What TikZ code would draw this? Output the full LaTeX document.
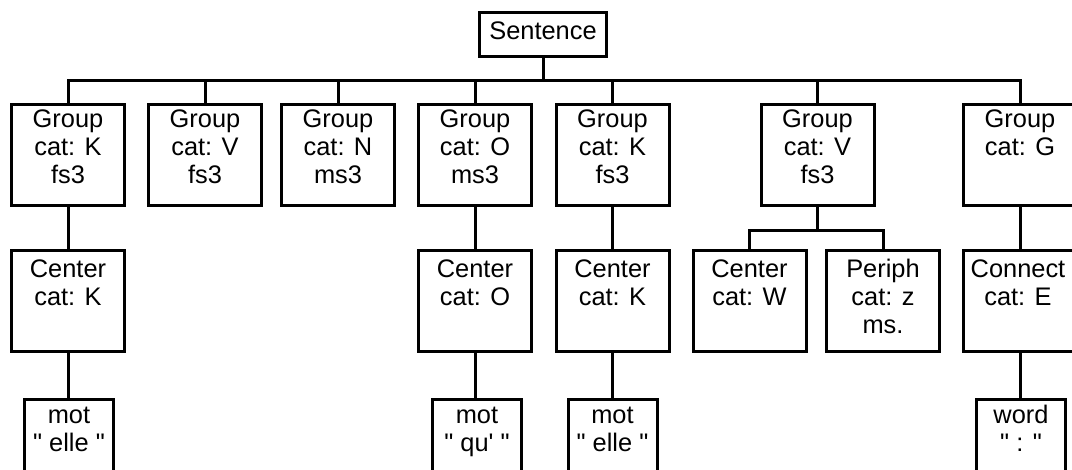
\documentclass[tikz,border=0pt]{standalone}
\usepackage{fontspec}
\setmainfont{Liberation Sans}[Ligatures=TeXOff]
\newcommand{\mylines}[1]{\begin{tabular}[t]{@{}c@{}}#1\end{tabular}}
\begin{document}
\begin{tikzpicture}[x=0.5pt,y=-0.5pt,
  bx/.style={draw, line width=1.5pt, inner sep=0, minimum width=56.5pt, minimum height=50.5pt},
  wbx/.style={draw, line width=1.5pt, inner sep=0, minimum width=44.5pt, minimum height=50.5pt},
  txt/.style={anchor=base, inner sep=0, font=\fontsize{12.7}{14}\selectfont},
  cn/.style={line width=1.5pt}]
\clip (0,0) rectangle (1072,470);
\fill[white] (0,0) rectangle (1072,470);
% root
\node[draw, line width=1.5pt, inner sep=0, minimum width=63.5pt, minimum height=22pt] (sent) at (543,34.5) {};
\node[txt] (tsent) at (543,40) {Sentence};
% group row
\node[bx] (g1) at (68,155) {};
\node[bx] (g2) at (205,155) {};
\node[bx] (g3) at (338,155) {};
\node[bx] (g4) at (475,155) {};
\node[bx] (g5) at (612.5,155) {};
\node[bx] (g6) at (817.5,155) {};
\node[bx] (g7) at (1020,155) {};
\node[txt] (tg1) at (68,128) {\mylines{Group\\cat: K\\fs3}};
\node[txt] (tg2) at (205,128) {\mylines{Group\\cat: V\\fs3}};
\node[txt] (tg3) at (338,128) {\mylines{Group\\cat: N\\ms3}};
\node[txt] (tg4) at (475,128) {\mylines{Group\\cat: O\\ms3}};
\node[txt] (tg5) at (612.5,128) {\mylines{Group\\cat: K\\fs3}};
\node[txt] (tg6) at (817.5,128) {\mylines{Group\\cat: V\\fs3}};
\node[txt] (tg7) at (1020,128) {\mylines{Group\\cat: G}};
% center row
\node[bx] (c1) at (68,301) {};
\node[bx] (c4) at (475,301) {};
\node[bx] (c5) at (612.5,301) {};
\node[bx] (c6a) at (749.5,301) {};
\node[bx] (c6b) at (883,301) {};
\node[bx] (c7) at (1020,301) {};
\node[txt] (tc1) at (68,278) {\mylines{Center\\cat: K}};
\node[txt] (tc4) at (475,278) {\mylines{Center\\cat: O}};
\node[txt] (tc5) at (612.5,278) {\mylines{Center\\cat: K}};
\node[txt] (tc6a) at (749.5,278) {\mylines{Center\\cat: W}};
\node[txt] (tc6b) at (883,278) {\mylines{Periph\\cat: z\\ms.}};
\node[txt] (tc7) at (1018,278) {\mylines{Connect\\cat: E}};
% word row
\node[wbx] (w1) at (69,450) {};
\node[wbx] (w4) at (477,450) {};
\node[wbx] (w5) at (612.5,450) {};
\node[wbx] (w7) at (1021,450) {};
\node[txt] (tw1) at (69,423) {\mylines{mot\\" elle "}};
\node[txt] (tw4) at (477,423) {\mylines{mot\\" qu' "}};
\node[txt] (tw5) at (612.5,423) {\mylines{mot\\" elle "}};
\node[txt] (tw7) at (1021,423) {\mylines{word\\" : "}};
% connectors
\coordinate (bus) at (543,81);
\coordinate (sbus) at (817.5,231);
\draw[cn] (sent.south) -- (bus);
\draw[cn] (g1.north) |- (bus) -| (g7.north);
\draw[cn] (g2.north) -- (g2.north |- bus);
\draw[cn] (g3.north) -- (g3.north |- bus);
\draw[cn] (g4.north) -- (g4.north |- bus);
\draw[cn] (g5.north) -- (g5.north |- bus);
\draw[cn] (g6.north) -- (g6.north |- bus);
\draw[cn] (g1.south) -- (c1.north);
\draw[cn] (g4.south) -- (c4.north);
\draw[cn] (g5.south) -- (c5.north);
\draw[cn] (g7.south) -- (c7.north);
\draw[cn] (g6.south) -- (sbus);
\draw[cn] (c6a.north) |- (sbus) -| (c6b.north);
\draw[cn] (c1.south) -- (c1.south |- w1.north);
\draw[cn] (c4.south) -- (c4.south |- w4.north);
\draw[cn] (c5.south) -- (c5.south |- w5.north);
\draw[cn] (c7.south) -- (c7.south |- w7.north);
\end{tikzpicture}
\end{document}
